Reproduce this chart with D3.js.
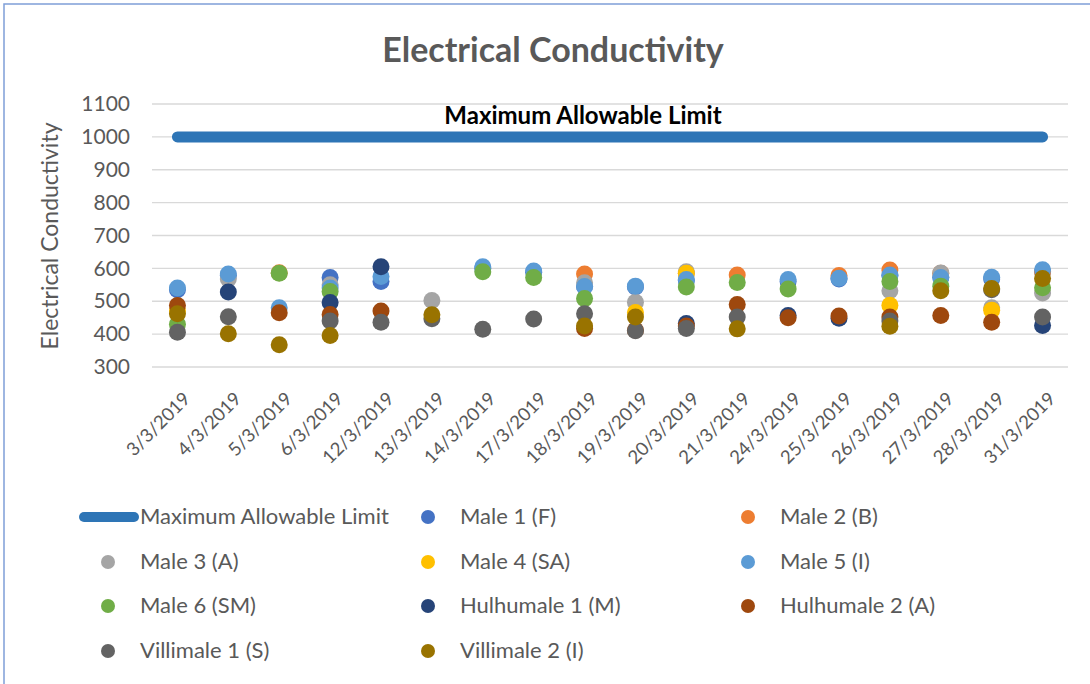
<!DOCTYPE html>
<html><head><meta charset="utf-8">
<script src="https://cdn.jsdelivr.net/npm/d3@7"></script>
<style>body{margin:0;background:#fff;} text{font-family:Lato,"Open Sans",sans-serif;}</style>
</head><body><svg id="c" width="1090" height="684"></svg>
<script>
const dates = ["3/3/2019","4/3/2019","5/3/2019","6/3/2019","12/3/2019","13/3/2019","14/3/2019","17/3/2019","18/3/2019","19/3/2019","20/3/2019","21/3/2019","24/3/2019","25/3/2019","26/3/2019","27/3/2019","28/3/2019","31/3/2019"];
const yTicks = [300,400,500,600,700,800,900,1000,1100];
const limitValue = 1000;
const limitName = "Maximum Allowable Limit";
const seriesNames = ["Male 1 (F)","Male 2 (B)","Male 3 (A)","Male 4 (SA)","Male 5 (I)","Male 6 (SM)","Hulhumale 1 (M)","Hulhumale 2 (A)","Villimale 1 (S)","Villimale 2 (I)"];
const colors = ["#4472C4","#ED7D31","#A5A5A5","#FFC000","#5B9BD5","#70AD47","#264478","#9E480E","#636363","#997300"];
const male1      = [535,578,null,572,560,null,600,588,545,543,563,null,560,568,578,573,568,590];
const male2      = [null,null,587,null,null,null,null,null,583,null,585,580,null,578,595,585,null,590];
const male3      = [null,568,null,550,null,502,null,null,556,497,590,null,null,null,532,586,480,525];
const male4      = [470,null,null,null,null,null,null,null,null,466,585,null,null,null,488,null,473,null];
const male5      = [540,583,480,540,575,null,605,592,545,546,566,null,566,570,580,572,573,596];
const male6      = [430,null,585,530,null,null,590,572,508,null,543,557,537,null,560,546,null,541];
const hulhumale1 = [null,528,null,496,605,null,null,null,null,null,432,null,457,448,null,null,null,426];
const hulhumale2 = [487,null,465,460,470,null,null,null,417,412,425,490,450,455,452,457,436,null];
const villimale1 = [406,453,null,440,436,447,415,446,462,410,417,452,null,null,440,null,535,452];
const villimale2 = [462,401,368,396,null,459,null,null,425,452,null,416,null,null,424,532,539,569];
const seriesValues = [male1,male2,male3,male4,male5,male6,hulhumale1,hulhumale2,villimale1,villimale2];

const svg = d3.select("#c");
svg.append("rect").attr("x",4).attr("y",4).attr("width",1100).attr("height",700)
  .attr("fill","none").attr("stroke","#7F9FD8").attr("stroke-width",1.5);

const pL=152, pR=1068, pT=104, pB=367;
const x = d3.scaleBand().domain(dates).range([pL,pR]);
const y = d3.scaleLinear().domain([300,1100]).range([pB,pT]);
const txt = "#595959";

svg.append("text").attr("x",553).attr("y",62).attr("text-anchor","middle")
  .attr("font-size",34).attr("font-weight","bold").attr("fill",txt).text("Electrical Conductivity");

svg.append("g").selectAll("line").data(yTicks).join("line")
  .attr("x1",pL).attr("x2",pR).attr("y1",d=>y(d)).attr("y2",d=>y(d))
  .attr("stroke","#D9D9D9").attr("stroke-width",1.3);

const ya = svg.append("g").attr("transform",`translate(${pL},0)`)
  .call(d3.axisLeft(y).tickValues(yTicks).tickFormat(d3.format("d")).tickSize(0).tickPadding(22));
ya.select(".domain").remove();
ya.selectAll("text").attr("font-size",21).attr("fill",txt).style("font-family","Lato");

svg.append("text").attr("transform","translate(58,236) rotate(-90)").attr("text-anchor","middle")
  .attr("font-size",23).attr("fill",txt).text("Electrical Conductivity");

const xa = svg.append("g").attr("transform",`translate(0,${pB})`)
  .call(d3.axisBottom(x).tickSize(0).tickPadding(0));
xa.select(".domain").remove();
xa.selectAll("text").attr("font-size",18.5).attr("fill",txt).style("font-family","Lato")
  .attr("text-anchor","end").attr("dy","0").attr("y",0).attr("transform","translate(14,33) rotate(-45)");

const line = d3.line().x(d=>x(d)+x.bandwidth()/2).y(()=>y(limitValue));
svg.append("path").datum(dates).attr("d",line).attr("fill","none")
  .attr("stroke","#2E75B6").attr("stroke-width",11).attr("stroke-linecap","round");
svg.append("text").attr("x",583).attr("y",124).attr("text-anchor","middle")
  .attr("font-size",24).attr("font-weight","bold").attr("fill","#000").text(limitName);

seriesValues.forEach((vals,i)=>{
  svg.append("g").selectAll("circle")
    .data(vals.map((v,j)=>({v,d:dates[j]})).filter(p=>p.v!=null))
    .join("circle").attr("cx",p=>x(p.d)+x.bandwidth()/2).attr("cy",p=>y(p.v))
    .attr("r",8.5).attr("fill",colors[i]);
});

const legendItems = [{name:limitName,type:"line",color:"#2E75B6"}].concat(seriesNames.map((n,i)=>({name:n,type:"dot",color:colors[i]})));
const colX = [108,428,748], rowY=[517,562,606,651];
const lg = svg.append("g");
legendItems.forEach((it,k)=>{
  const cx = colX[k%3], cy=rowY[Math.floor(k/3)];
  if(it.type==="line"){
    lg.append("line").attr("x1",84).attr("x2",134).attr("y1",cy).attr("y2",cy)
      .attr("stroke",it.color).attr("stroke-width",10).attr("stroke-linecap","round");
    lg.append("text").attr("x",140).attr("y",cy+7).attr("font-size",22).attr("fill",txt).text(it.name);
  } else {
    lg.append("circle").attr("cx",cx).attr("cy",cy).attr("r",7).attr("fill",it.color);
    lg.append("text").attr("x",cx+32).attr("y",cy+7).attr("font-size",22).attr("fill",txt).text(it.name);
  }
});
</script></body></html>
